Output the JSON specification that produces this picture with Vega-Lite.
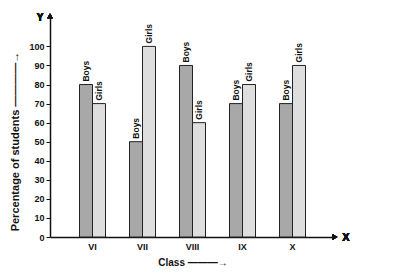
{
  "$schema": "https://vega.github.io/schema/vega-lite/v6.json",
  "width": 285,
  "height": 223,
  "autosize": {"type": "none"},
  "padding": {"left": 50, "top": 14, "right": 58, "bottom": 38},
  "background": "white",
  "config": {"view": {"stroke": null}, "font": "Liberation Sans"},
  "data": {
    "values": [
      {"class": "VI", "gender": "Boys", "percent": 80},
      {"class": "VI", "gender": "Girls", "percent": 70},
      {"class": "VII", "gender": "Boys", "percent": 50},
      {"class": "VII", "gender": "Girls", "percent": 100},
      {"class": "VIII", "gender": "Boys", "percent": 90},
      {"class": "VIII", "gender": "Girls", "percent": 60},
      {"class": "IX", "gender": "Boys", "percent": 70},
      {"class": "IX", "gender": "Girls", "percent": 80},
      {"class": "X", "gender": "Boys", "percent": 70},
      {"class": "X", "gender": "Girls", "percent": 90}
    ]
  },
  "layer": [
    {
      "encoding": {
        "x": {
          "field": "class", "type": "nominal",
          "sort": ["VI", "VII", "VIII", "IX", "X"],
          "scale": {"paddingInner": 0.48, "paddingOuter": 0.59},
          "axis": {
            "labelAngle": 0, "labelFontSize": 9, "labelFontWeight": "bold", "labelColor": "#111",
            "labelPadding": 5, "ticks": false, "domainColor": "#111", "domainWidth": 1.5,
            "title": "Class ———→", "titleFontSize": 10, "titleFontWeight": "bold", "titleColor": "#111",
            "titlePadding": 6
          }
        },
        "xOffset": {"field": "gender", "sort": ["Boys", "Girls"]},
        "y": {
          "field": "percent", "type": "quantitative",
          "scale": {"domain": [0, 117], "nice": false},
          "axis": {
            "values": [0, 10, 20, 30, 40, 50, 60, 70, 80, 90, 100], "labelOverlap": false,
            "grid": false, "tickSize": 4, "tickColor": "#111", "domainColor": "#111", "domainWidth": 1.5,
            "labelFontSize": 9, "labelFontWeight": "bold", "labelColor": "#111", "labelPadding": 2,
            "title": "Percentage of students    ————→", "titleFontSize": 11, "titleFontWeight": "bold",
            "titleColor": "#111", "titleX": -35, "titleY": 127, "titleAngle": -90,
            "titleAlign": "center", "titleBaseline": "middle"
          }
        }
      },
      "layer": [
        {
          "mark": {"type": "bar", "stroke": "#222", "strokeWidth": 1},
          "encoding": {
            "fill": {
              "field": "gender", "type": "nominal",
              "scale": {"domain": ["Boys", "Girls"], "range": ["#a8a8a8", "#dedede"]},
              "legend": null
            }
          }
        },
        {
          "mark": {"type": "text", "angle": -90, "align": "left", "baseline": "middle", "dx": 3,
                   "fontSize": 8.5, "fontWeight": "bold", "color": "#111"},
          "encoding": {"text": {"field": "gender"}}
        }
      ]
    },
    {
      "mark": {"type": "point", "shape": "triangle-up", "filled": true, "color": "#111", "size": 30, "opacity": 1},
      "encoding": {
        "x": {"datum": 0, "type": "quantitative", "scale": {"domain": [0, 1]}, "axis": null},
        "y": {"datum": 116, "axis": null}
      }
    },
    {
      "mark": {"type": "point", "shape": "triangle-right", "filled": true, "color": "#111", "size": 30, "opacity": 1},
      "encoding": {
        "x": {"datum": 1, "type": "quantitative", "scale": {"domain": [0, 1]}, "axis": null},
        "y": {"datum": 0, "axis": null}
      }
    },
    {
      "mark": {"type": "text", "text": "Y", "dx": -10, "dy": 2, "fontSize": 10, "fontWeight": "bold", "color": "#111"},
      "encoding": {
        "x": {"datum": 0, "type": "quantitative", "scale": {"domain": [0, 1]}, "axis": null},
        "y": {"datum": 116, "axis": null}
      }
    },
    {
      "mark": {"type": "text", "text": "X", "dx": 11, "dy": 1, "fontSize": 11, "fontWeight": "bold", "color": "#111"},
      "encoding": {
        "x": {"datum": 1, "type": "quantitative", "scale": {"domain": [0, 1]}, "axis": null},
        "y": {"datum": 0, "axis": null}
      }
    }
  ],
  "resolve": {"scale": {"x": "independent"}, "axis": {"y": "independent"}}
}
